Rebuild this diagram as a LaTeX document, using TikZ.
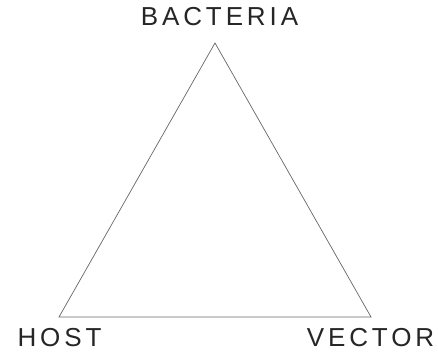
\documentclass[tikz,border=0pt]{standalone}
\usepackage{fontspec}
\setmainfont{Liberation Sans}[LetterSpace=15]
\begin{document}
\begin{tikzpicture}[x=1pt,y=1pt,
  lbl/.style={font=\fontsize{26}{29}\selectfont, text=black!85, inner sep=0pt},
  edge/.style={draw=black!60, line width=0.7pt, line join=miter}]
\useasboundingbox[fill=white] (0,0) rectangle (438,353);
\coordinate (b) at (215,310);
\coordinate (h) at (59,36);
\coordinate (v) at (371,36);
\draw[edge] (b) -- (h) -- (v) -- cycle;
\node[lbl] (bl) at (219.5,336) {BACTERIA};
\node[lbl] (hl) at (59.5,15) {HOST};
\node[lbl] (vl) at (370.5,15) {VECTOR};
\end{tikzpicture}
\end{document}
